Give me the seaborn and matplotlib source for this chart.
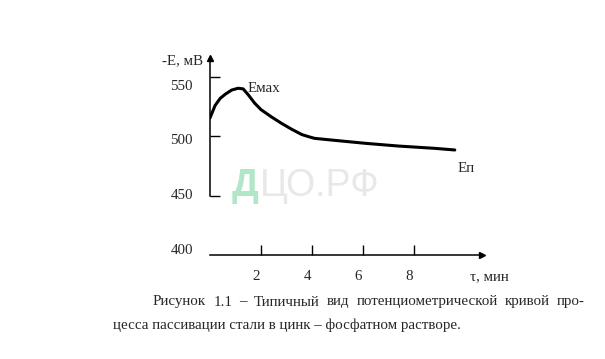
import numpy as np
import pandas as pd
import matplotlib
matplotlib.use('Agg')
import matplotlib.pyplot as plt
import seaborn as sns
from matplotlib.transforms import ScaledTranslation

# Data: time (min) and potential -E (mV)
time_min = [0.0, 0.2, 0.4, 0.6, 0.85, 1.1, 1.3, 1.5, 1.75, 2.0, 2.4, 2.8,
            3.2, 3.6, 3.9, 4.1, 4.8, 6.1, 7.4, 8.8, 9.6]
potential_mv = [515.5, 526.0, 532.0, 535.5, 539.0, 540.5, 540.0, 535.0, 528.0,
                522.5, 516.5, 511.0, 506.0, 501.5, 499.5, 498.3, 496.8, 494.1,
                491.8, 489.9, 488.5]

x_ticks = [2, 4, 6, 8]
y_ticks = [400, 450, 500, 550]
y_tick_labels = ['400', '450', '500', '550']
x_tick_labels = ['2', '4', '6', '8']

caption_1 = 'Рисунок 1.1 – Типичный вид потенциометрической кривой про-'
caption_2 = 'цесса пассивации стали в цинк – фосфатном растворе.'

sns.set_theme(style='white')
plt.rcParams['font.family'] = ['Liberation Serif', 'DejaVu Serif']

W, H = 605, 359
fig = plt.figure(figsize=(W / 100, H / 100), dpi=100)

# axes box in pixels: x 210..490, y 50..255 (top to bottom)
px_per_min = 25.5
px_per_mv = 1.1867
ax = fig.add_axes([210 / W, (H - 255) / H, 280 / W, 205 / H])
ax.set_xlim(0, 280 / px_per_min)
ax.set_ylim(400, 400 + 205 / px_per_mv)
ax.patch.set_alpha(0)

df = pd.DataFrame({'t': time_min, 'E': potential_mv})
sns.lineplot(data=df, x='t', y='E', ax=ax, color='black', linewidth=2.2)

for s in ['top', 'right']:
    ax.spines[s].set_visible(False)
y_top = 400 + (255 - 58) / px_per_mv
x_end = (482 - 210) / px_per_min
ax.spines['left'].set_bounds(450, y_top)
ax.spines['bottom'].set_bounds(0, x_end)
for s in ['left', 'bottom']:
    ax.spines[s].set_color('black')
    ax.spines[s].set_linewidth(1.1)
ax.plot([0], [y_top], marker='^', color='black', markersize=5, clip_on=False)
ax.plot([x_end], [400], marker='>', color='black', markersize=5, clip_on=False)

ax.set_xticks(x_ticks)
ax.set_yticks(y_ticks[1:])
ax.tick_params(direction='in', length=7, width=1.0, colors='black',
               labelbottom=False, labelleft=False, bottom=True, left=True)
ax.set_xlabel('')
ax.set_ylabel('')

fs = 10.8
# tick labels placed as in the scan (slightly shifted)
for v, lab in zip(x_ticks, x_tick_labels):
    tr = ax.get_xaxis_transform() + ScaledTranslation(-5 / 100, -22 / 100, fig.dpi_scale_trans)
    ax.text(v, 0, lab, transform=tr, ha='center', va='center', fontsize=fs)
y_shift = [4, 0, -4, -10]
for v, lab, dy in zip(y_ticks, y_tick_labels, y_shift):
    tr = ax.get_yaxis_transform() + ScaledTranslation(-17 / 100, dy / 100, fig.dpi_scale_trans)
    ax.text(0, v, lab, transform=tr, ha='right', va='center', fontsize=fs)

# axis titles and annotations
fig.text(203 / W, 1 - 61 / H, '-E, мВ', ha='right', va='center', fontsize=fs)
fig.text(470 / W, 1 - 277 / H, 'τ, мин', ha='left', va='center', fontsize=fs)
fig.text(248 / W, 1 - 88 / H, 'Емах', ha='left', va='center', fontsize=fs)
fig.text(458 / W, 1 - 168 / H, 'Еп', ha='left', va='center', fontsize=fs)

# watermark
fig.text(232 / W, 1 - 196 / H, 'Д', ha='left', va='baseline', fontsize=27,
         family='Liberation Sans', fontweight='bold', color='#b2e6c8')
fig.text(260 / W, 1 - 196 / H, 'ЦО.РФ', ha='left', va='baseline', fontsize=27,
         family='Liberation Sans', color='#e8e8e8')

# caption: first line justified between 153 and 585 px
renderer = fig.canvas.get_renderer()
words = caption_1.split(' ')
widths = []
for w in words:
    t = fig.text(0, 0, w, fontsize=fs)
    widths.append(t.get_window_extent(renderer).width)
    t.remove()
gap = (585 - 153 - sum(widths)) / (len(words) - 1)
x = 153
for w, wd in zip(words, widths):
    fig.text(x / W, 1 - 302 / H, w, ha='left', va='center', fontsize=fs)
    x += wd + gap
fig.text(113 / W, 1 - 325 / H, caption_2, ha='left', va='center', fontsize=fs)

fig.savefig('out.png', dpi=100)
